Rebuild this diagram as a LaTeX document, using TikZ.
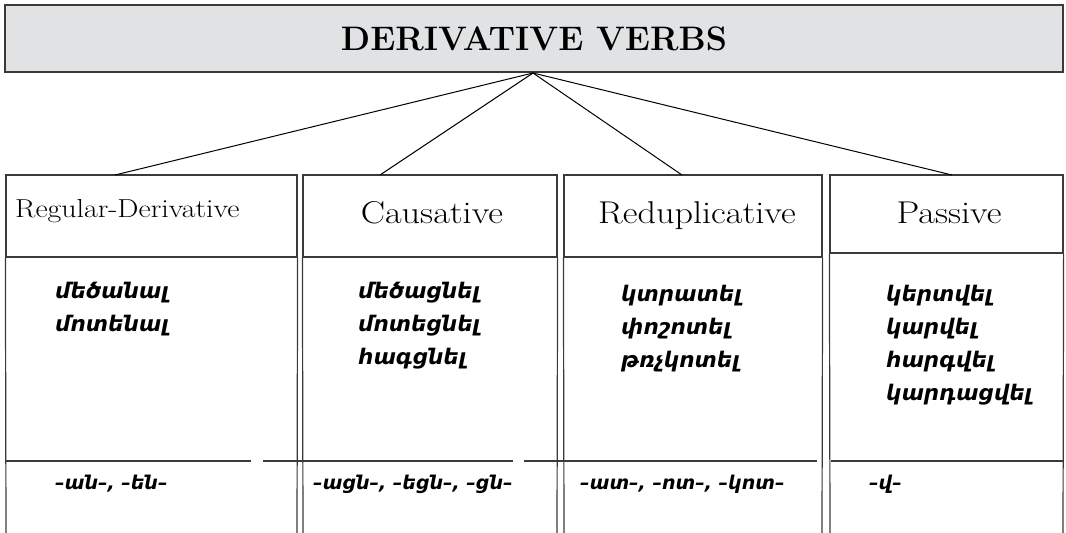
\documentclass[tikz,border=0pt]{standalone}
\usepackage{fontspec}
\usepackage{graphicx}
\newfontfamily\arm{DejaVu Sans}
\definecolor{boxfill}{HTML}{E1E2E3}
\definecolor{edge}{HTML}{3A3A3A}
\newcommand\wide[1]{\scalebox{1.15}[1]{#1}}
\tikzset{
  titlebox/.style={draw=edge, line width=2pt, fill=boxfill, inner sep=0pt},
  cell/.style={draw=edge, line width=1.2pt, inner sep=0pt},
  rule/.style={draw=edge, line width=1.2pt},
  link/.style={draw=black, line width=1pt},
  head/.style={inner sep=0pt, font=\fontsize{31.5}{33}\selectfont},
  word/.style={inner sep=0pt, anchor=base west, font=\arm\bfseries\itshape\fontsize{21.5}{22}\selectfont},
  affix/.style={inner sep=0pt, anchor=base west, font=\arm\bfseries\itshape\fontsize{19}{20}\selectfont},
}
\begin{document}
\begin{tikzpicture}[x=1pt, y=-1pt]
\useasboundingbox (0,0) rectangle (1066,533);
% title
\node[titlebox, minimum width=1058pt, minimum height=67pt] (title) at (534,38.5) {};
\node[inner sep=0pt, anchor=base, font=\bfseries\fontsize{34}{36}\selectfont] (ttl) at (534,50) {DERIVATIVE VERBS};
% header cells
\node[cell, minimum width=291pt, minimum height=82pt] (h1) at (151.5,216) {};
\node[cell, minimum width=254pt, minimum height=82pt] (h2) at (430,216) {};
\node[cell, minimum width=258pt, minimum height=82pt] (h3) at (693,216) {};
\node[cell, minimum width=233pt, minimum height=78pt] (h4) at (946.5,214) {};
% connector end points
\coordinate (apex) at (533,73);
\coordinate (e1) at (115,175);
\coordinate (e2) at (380,175);
\coordinate (e3) at (682,175);
\coordinate (e4) at (952,175);
\draw[link] (apex) -- (e1);
\draw[link] (apex) -- (e2);
\draw[link] (apex) -- (e3);
\draw[link] (apex) -- (e4);
% column bodies (open at the bottom)
\coordinate (b1) at (6,533);   \coordinate (b1r) at (297,533);
\coordinate (b2) at (303,533); \coordinate (b2r) at (557,533);
\coordinate (b3) at (564,533); \coordinate (b3r) at (822,533);
\coordinate (b4) at (830,533); \coordinate (b4r) at (1063,533);
\draw[rule] (h1.south west) -- (b1);
\draw[rule] (h1.south east) -- (b1r);
\draw[rule] (h2.south west) -- (b2);
\draw[rule] (h2.south east) -- (b2r);
\draw[rule] (h3.south west) -- (b3);
\draw[rule] (h3.south east) -- (b3r);
\draw[rule] (h4.south west) -- (b4);
\draw[rule] (h4.south east) -- (b4r);
% lower separators
\coordinate (s1a) at (6,461);   \coordinate (s1b) at (251,461);
\coordinate (s2a) at (263,461); \coordinate (s2b) at (513,461);
\coordinate (s3a) at (524,461); \coordinate (s3b) at (817,461);
\coordinate (s4a) at (831,461); \coordinate (s4b) at (1063,461);
\draw[rule] (s1a) -- (s1b);
\draw[rule] (s2a) -- (s2b);
\draw[rule] (s3a) -- (s3b);
\draw[rule] (s4a) -- (s4b);
% headings
\node[inner sep=0pt, anchor=base west, font=\fontsize{26}{27}\selectfont] (t1) at (15,217) {\wide{Regular-Derivative}};
\node[head, anchor=base] (t2) at (432,223) {\wide{Causative}};
\node[head, anchor=base] (t3) at (697,223) {\wide{Reduplicative}};
\node[head, anchor=base] (t4) at (949,223) {\wide{Passive}};
% words
\node[word] (w11) at (55,298) {մեծանալ};
\node[word] (w12) at (55,331) {մոտենալ};
\node[word] (w21) at (358,298) {մեծացնել};
\node[word] (w22) at (358,331) {մոտեցնել};
\node[word] (w23) at (358,364) {հագցնել};
\node[word] (w31) at (621,301) {կտրատել};
\node[word] (w32) at (621,334) {փոշոտել};
\node[word] (w33) at (621,367) {թռչկոտել};
\node[word] (w41) at (886,301) {կերտվել};
\node[word] (w42) at (886,334) {կարվել};
\node[word] (w43) at (886,367) {հարգվել};
\node[word] (w44) at (886,400) {կարդացվել};
% suffixes
\node[affix] (x1) at (55,489) {–ան–, –են–};
\node[affix] (x2) at (313,489) {–ացն–, –եցն–, –ցն–};
\node[affix] (x3) at (580,489) {–ատ–, –ոտ–, –կոտ–};
\node[affix] (x4) at (869,489) {–վ–};
\end{tikzpicture}
\end{document}
